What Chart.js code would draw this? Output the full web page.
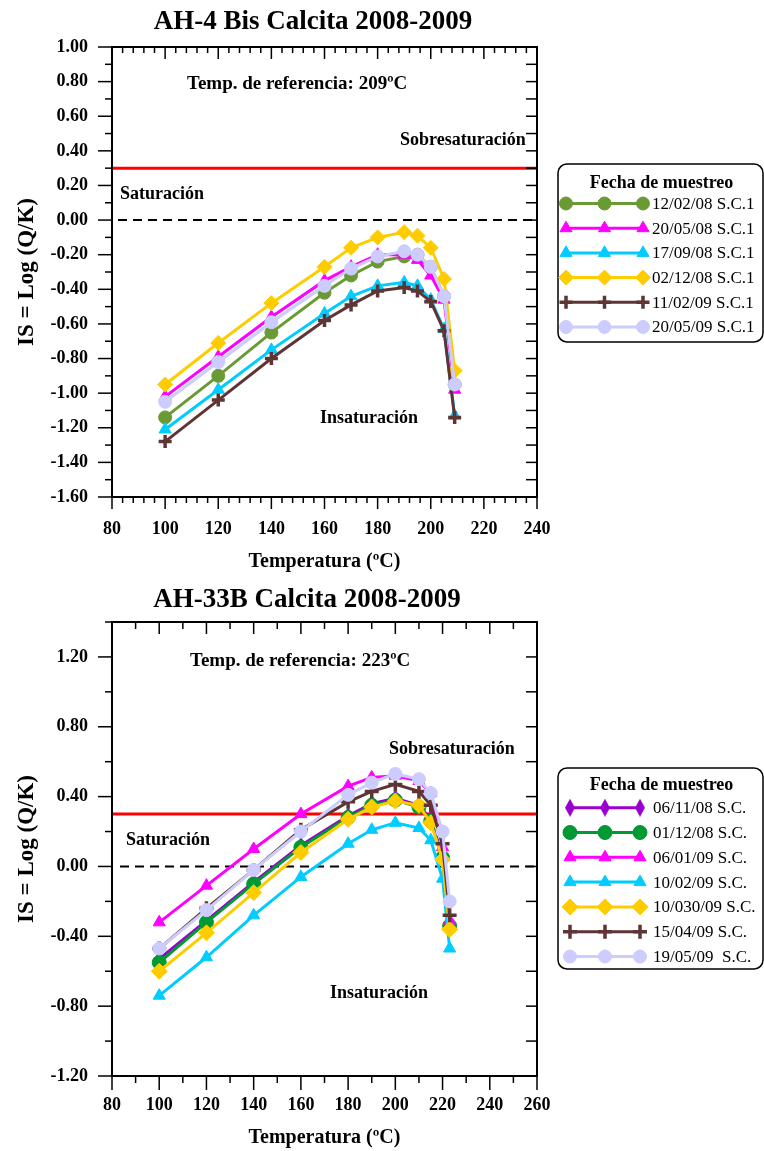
<!DOCTYPE html>
<html><head><meta charset="utf-8">
<script src="https://cdn.jsdelivr.net/npm/chart.js@4.4.1/dist/chart.umd.min.js"></script>
<style>
html,body{margin:0;padding:0;background:#fff;}
#c1{position:absolute;left:0;top:0;}
#c2{position:absolute;left:0;top:585px;}
</style></head><body>
<canvas id="c1" width="764" height="585"></canvas>
<canvas id="c2" width="764" height="566"></canvas>
<script>
const FONT = "'Liberation Serif','Times New Roman',serif";

// ---------- Chart 1: AH-4 Bis ----------
const title1 = 'AH-4 Bis Calcita 2008-2009';
const temps1 = [100,120,140,160,170,180,190,195,200,205,209];
const labels1 = ['12/02/08 S.C.1','20/05/08 S.C.1','17/09/08 S.C.1','02/12/08 S.C.1','11/02/09 S.C.1','20/05/09 S.C.1'];
const is_120208 = [-1.14,-0.90,-0.65,-0.42,-0.32,-0.24,-0.21,-0.20,-0.27,-0.44,-0.95];
const is_200508 = [-1.02,-0.79,-0.56,-0.35,-0.27,-0.20,-0.20,-0.23,-0.32,-0.46,-0.98];
const is_170908 = [-1.21,-0.98,-0.75,-0.54,-0.44,-0.38,-0.36,-0.38,-0.46,-0.63,-1.13];
const is_021208 = [-0.95,-0.71,-0.48,-0.27,-0.16,-0.10,-0.07,-0.09,-0.16,-0.34,-0.87];
const is_110209 = [-1.28,-1.04,-0.80,-0.58,-0.49,-0.41,-0.39,-0.41,-0.47,-0.64,-1.14];
const is_200509 = [-1.05,-0.82,-0.59,-0.38,-0.28,-0.21,-0.18,-0.20,-0.27,-0.44,-0.95];
const xTicks1 = [80,100,120,140,160,180,200,220,240];
const yTicks1 = [-1.60,-1.40,-1.20,-1.00,-0.80,-0.60,-0.40,-0.20,0.00,0.20,0.40,0.60,0.80,1.00];
const refText1 = 'Temp. de referencia: 209ºC';

// ---------- Chart 2: AH-33B ----------
const title2 = 'AH-33B Calcita 2008-2009';
const temps2 = [100,120,140,160,180,190,200,210,215,220,223];
const labels2 = ['06/11/08 S.C.','01/12/08 S.C.','06/01/09 S.C.','10/02/09 S.C.','10/030/09 S.C.','15/04/09 S.C.','19/05/09  S.C.'];
const is_061108 = [-0.53,-0.31,-0.09,0.12,0.29,0.36,0.39,0.35,0.27,0.06,-0.33];
const is_011208 = [-0.55,-0.32,-0.10,0.11,0.28,0.35,0.38,0.34,0.26,0.05,-0.34];
const is_060109 = [-0.32,-0.11,0.10,0.30,0.46,0.51,0.52,0.49,0.42,0.11,-0.31];
const is_100209 = [-0.74,-0.52,-0.28,-0.06,0.13,0.21,0.25,0.22,0.15,-0.07,-0.47];
const is_100309 = [-0.60,-0.38,-0.15,0.08,0.27,0.34,0.375,0.35,0.25,0.04,-0.36];
const is_150409 = [-0.47,-0.24,-0.02,0.21,0.37,0.43,0.47,0.43,0.35,0.13,-0.28];
const is_190509 = [-0.47,-0.25,-0.02,0.20,0.41,0.48,0.53,0.50,0.42,0.20,-0.20];
const xTicks2 = [80,100,120,140,160,180,200,220,240,260];
const yTicks2 = [-1.20,-0.80,-0.40,0.00,0.40,0.80,1.20];
const refText2 = 'Temp. de referencia: 223ºC';

const SAT_LEVEL = 0.30;

function narrowDiamond(color){
  const c=document.createElement('canvas'); c.width=10; c.height=18;
  const g=c.getContext('2d'); g.fillStyle=color; g.beginPath();
  g.moveTo(5,0); g.lineTo(10,9); g.lineTo(5,18); g.lineTo(0,9); g.closePath(); g.fill();
  return c;
}

function ds(label, xs, ys, color, style, radius, pbw, lw, idx){
  return {label, data: xs.map((x,i)=>({x, y: ys[i]})), borderColor: color, backgroundColor: color,
    pointBackgroundColor: color, pointBorderColor: color, pointStyle: style, pointRadius: radius,
    pointBorderWidth: pbw, borderWidth: lw, tension: 0, fill: false, order: -idx};
}

const deco = {
  id: 'deco',
  beforeDatasetsDraw(chart, args, o){
    const {ctx, chartArea: a, scales: {x, y}} = chart;
    ctx.save();
    let py = y.getPixelForValue(SAT_LEVEL);
    ctx.strokeStyle = '#ff0000'; ctx.lineWidth = 3;
    ctx.beginPath(); ctx.moveTo(a.left, py); ctx.lineTo(a.right, py); ctx.stroke();
    py = y.getPixelForValue(0);
    ctx.strokeStyle = '#000'; ctx.lineWidth = 2; ctx.setLineDash([9,6]);
    ctx.beginPath(); ctx.moveTo(a.left + o.dashStart, py); ctx.lineTo(a.right, py); ctx.stroke();
    ctx.restore();
  },
  afterDatasetsDraw(chart, args, o){
    const {ctx, chartArea: a, scales: {x, y}} = chart;
    ctx.save();
    ctx.strokeStyle = '#000'; ctx.lineWidth = 2; ctx.setLineDash([]);
    ctx.strokeRect(a.left, a.top, a.right - a.left, a.bottom - a.top);
    ctx.lineWidth = 1.5;
    const line = (x1,y1,x2,y2)=>{ctx.beginPath(); ctx.moveTo(x1,y1); ctx.lineTo(x2,y2); ctx.stroke();};
    for (let v = x.min; v <= x.max + 1e-9; v += o.xMinor) {
      const major = Math.abs(((v - x.min) / o.xMajor) - Math.round((v - x.min) / o.xMajor)) < 1e-6;
      const px = x.getPixelForValue(v);
      line(px, a.bottom, px, a.bottom + (major ? o.xMajLen : o.xMinLen));
      if (v > x.min && v < x.max) line(px, a.top, px, a.top + (major ? o.topMajLen : o.topMinLen));
    }
    for (let v = y.min; v <= y.max + 1e-9; v += o.yMinor) {
      const major = Math.abs(((v - y.min) / o.yMajor) - Math.round((v - y.min) / o.yMajor)) < 1e-6;
      const py = y.getPixelForValue(v);
      line(a.left - (major ? o.yMajLen : o.yMinLen), py, a.left, py);
      if (v > y.min && v < y.max) line(a.right - o.rightLen, py, a.right, py);
    }
    ctx.fillStyle = '#000';
    ctx.font = 'bold 27px ' + FONT; ctx.textAlign = 'center'; ctx.textBaseline = 'middle';
    ctx.fillText(o.title, o.titleX, o.titleY);
    ctx.textAlign = 'left';
    for (const t of o.texts) { ctx.font = 'bold ' + (t.size || 18) + 'px ' + FONT; ctx.fillText(t.text, t.x, t.y); }
    const L = o.legend;
    ctx.lineWidth = 1.5; ctx.strokeStyle = '#000';
    ctx.beginPath(); ctx.roundRect(L.x, L.y, L.w, L.h, 9); ctx.stroke();
    ctx.font = 'bold 18px ' + FONT; ctx.textAlign = 'center';
    ctx.fillText('Fecha de muestreo', L.x + L.w/2 + 1, L.titleY);
    ctx.font = '17px ' + FONT; ctx.textAlign = 'left';
    chart.data.datasets.forEach((d, i) => {
      const ry = L.rowY + i * L.rowH;
      ctx.strokeStyle = d.borderColor; ctx.lineWidth = 3;
      line(L.lx1, ry, L.lx2, ry);
      ctx.fillStyle = d.backgroundColor; ctx.strokeStyle = d.borderColor; ctx.lineWidth = d.pointBorderWidth;
      for (const mx of [L.lx1, (L.lx1 + L.lx2)/2, L.lx2]) {
        Chart.helpers.drawPoint(ctx, {pointStyle: d.pointStyle, radius: d.pointRadius, borderWidth: d.pointBorderWidth, rotation: 0}, mx, ry);
      }
      ctx.fillStyle = '#000';
      ctx.fillText(d.label, L.tx, ry + 1);
    });
    ctx.restore();
  }
};

function scalesFor(xmin, xmax, xt, ymin, ymax, yt, xh, xpad, xtitlePad){
  return {
    x: {type:'linear', min:xmin, max:xmax, grid:{display:false, drawTicks:false}, border:{display:false},
      afterBuildTicks: s => { s.ticks = xt.map(v => ({value: v})); },
      afterFit: s => { s.height = xh; },
      ticks:{padding:xpad, color:'#000', autoSkip:false, maxRotation:0, font:{family:FONT, size:18, weight:'bold'}, callback: v => String(v)},
      title:{display:true, text:'Temperatura (ºC)', color:'#000', font:{family:FONT, size:20, weight:'bold'}, padding:{top:0, bottom:xtitlePad}}
    },
    y: {type:'linear', min:ymin, max:ymax, grid:{display:false, drawTicks:false}, border:{display:false},
      afterBuildTicks: s => { s.ticks = yt.map(v => ({value: v})); },
      afterFit: s => { s.width = 112; },
      ticks:{padding:24, color:'#000', autoSkip:false, font:{family:FONT, size:18, weight:'bold'}, callback: v => Number(v).toFixed(2)},
      title:{display:true, text:'IS = Log (Q/K)', color:'#000', font:{family:FONT, size:23, weight:'bold'}, padding:{top:13, bottom:0}}
    }
  };
}

const green1='#6a9a34', magenta='#ff00ff', cyan='#00ccff', gold='#ffcc00', brown='#5e3434', lav='#ccccff';

new Chart(document.getElementById('c1'), {
  type: 'line',
  data: { datasets: [
    ds(labels1[0], temps1, is_120208, green1, 'circle', 6.5, 1, 3, 0),
    ds(labels1[1], temps1, is_200508, magenta, 'triangle', 7, 1, 3, 1),
    ds(labels1[2], temps1, is_170908, cyan, 'triangle', 7, 1, 3, 2),
    ds(labels1[3], temps1, is_021208, gold, 'rectRot', 7.5, 1, 3, 3),
    ds(labels1[4], temps1, is_110209, brown, 'cross', 6.5, 3.5, 3, 4),
    ds(labels1[5], temps1, is_200509, lav, 'circle', 6.5, 1, 3, 5)
  ]},
  options: {
    responsive:false, animation:false, devicePixelRatio:1,
    layout:{padding:{left:0, right:227, top:47, bottom:0}},
    plugins:{legend:{display:false}, tooltip:{enabled:false}, title:{display:false},
      deco:{ dashStart:6, xMinor:4, xMajor:20, yMinor:0.1, yMajor:0.2,
        xMajLen:12, xMinLen:6, topMajLen:12, topMinLen:6, yMajLen:14, yMinLen:7, rightLen:11,
        title:title1, titleX:313, titleY:22,
        texts:[{text:refText1, x:187, y:84, size:19},{text:'Sobresaturación', x:400, y:140},{text:'Saturación', x:120, y:194},{text:'Insaturación', x:320, y:418}],
        legend:{x:558, y:164, w:205, h:178, titleY:183, rowY:203.5, rowH:24.7, lx1:566, lx2:643, tx:652}
      }},
    scales: scalesFor(80, 240, xTicks1, -1.6, 1.0, yTicks1, 88, 22, 11)
  },
  plugins:[deco]
});

new Chart(document.getElementById('c2'), {
  type: 'line',
  data: { datasets: [
    ds(labels2[0], temps2, is_061108, '#9900cc', narrowDiamond('#9900cc'), 7, 1, 3, 0),
    ds(labels2[1], temps2, is_011208, '#009933', 'circle', 7, 1, 3, 1),
    ds(labels2[2], temps2, is_060109, magenta, 'triangle', 7, 1, 3, 2),
    ds(labels2[3], temps2, is_100209, cyan, 'triangle', 7, 1, 3, 3),
    ds(labels2[4], temps2, is_100309, gold, 'rectRot', 8, 1, 3, 4),
    ds(labels2[5], temps2, is_150409, brown, 'cross', 7, 3.5, 3, 5),
    ds(labels2[6], temps2, is_190509, lav, 'circle', 6.5, 1, 3, 6)
  ]},
  options: {
    responsive:false, animation:false, devicePixelRatio:1,
    layout:{padding:{left:0, right:227, top:37, bottom:0}},
    plugins:{legend:{display:false}, tooltip:{enabled:false}, title:{display:false},
      deco:{ dashStart:8, xMinor:10, xMajor:20, yMinor:0.2, yMajor:0.4,
        xMajLen:14, xMinLen:7, topMajLen:12, topMinLen:7, yMajLen:14, yMinLen:7, rightLen:11,
        title:title2, titleX:307, titleY:15,
        texts:[{text:refText2, x:190, y:76, size:19},{text:'Sobresaturación', x:389, y:164},{text:'Saturación', x:126, y:255},{text:'Insaturación', x:330, y:408}],
        legend:{x:558, y:183, w:205, h:201, titleY:200, rowY:222.7, rowH:24.8, lx1:570, lx2:640, tx:653}
      }},
    scales: scalesFor(80, 260, xTicks2, -1.2, 1.4, yTicks2, 75, 19, 1)
  },
  plugins:[deco]
});
</script>
</body></html>
